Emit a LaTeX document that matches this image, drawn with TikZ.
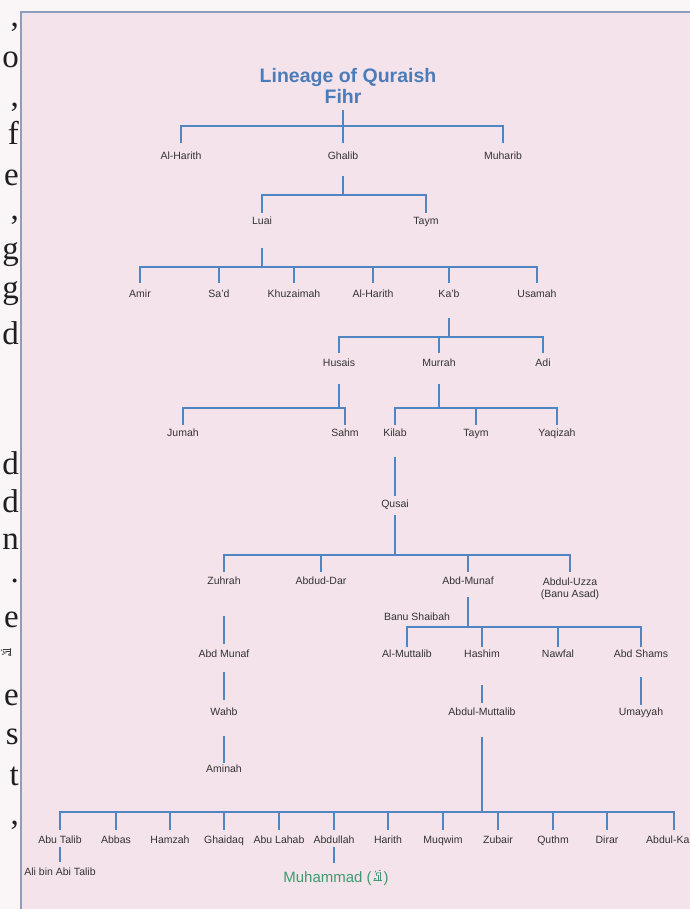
\documentclass[tikz,border=0pt]{standalone}
\usepackage{fontspec}
\setmainfont{Liberation Sans}
\newfontfamily\serifft{Liberation Serif}
\definecolor{panel}{HTML}{F4E3EA}
\definecolor{paper}{HTML}{FAF5F7}
\definecolor{framec}{HTML}{8E9DBB}
\definecolor{linkc}{HTML}{4F86C2}
\definecolor{titlec}{HTML}{4A7CBB}
\definecolor{labelc}{HTML}{333333}
\definecolor{greenc}{HTML}{3E9A70}
\newcommand\famlink[7]{%
  \draw[link] (#1 |- 0,#2) -- (#1 |- 0,#3);
  \draw[link] (#5 |- 0,#4) -- (#5 |- 0,#3) -- (#6 |- 0,#3) -- (#6 |- 0,#4);
  \foreach \c in {#7} {\draw[link] (\c |- 0,#3) -- (\c |- 0,#4);}
}
\newcommand\famtwo[6]{%
  \draw[link] (#1 |- 0,#2) -- (#1 |- 0,#3);
  \draw[link] (#5 |- 0,#4) -- (#5 |- 0,#3) -- (#6 |- 0,#3) -- (#6 |- 0,#4);
}
% the salawat ligature, which no available font has, drawn as a small shape
\newcommand\sawglyph[4]{% #1 coordinate, #2 rotation, #3 colour, #4 scale
  \begin{scope}[shift={(#1)}, rotate=#2, scale=#4, color=#3, line width=0.8bp, line cap=round, line join=round]
    \draw (-4.5,5) -- (4.5,5);
    \draw (-4.5,5) .. controls (-5.5,2) and (-3,1) .. (-2,3);
    \draw (3.5,5) -- (3.5,-5);
    \draw (1,4) -- (1,-1.5);
    \draw (-1,-1) .. controls (-3.5,-3) and (-1,-6) .. (1.5,-4.5);
    \draw (-3.5,-5) -- (-2.5,-6.5);
    \draw (1.5,-7) -- (3,-7.5);
  \end{scope}}
\begin{document}
\begin{tikzpicture}[x=1bp,y=-1bp,
  person/.style={font=\fontsize{10.5bp}{12bp}\selectfont, text=labelc, inner sep=0pt, text height=7.6bp, text depth=0pt},
  link/.style={draw=linkc, line width=1.7bp},
  titlest/.style={font=\fontsize{19.5bp}{22bp}\selectfont\bfseries, text=titlec, inner sep=0pt, text height=14bp, text depth=0pt},
  marg/.style={font=\serifft\fontsize{33bp}{33bp}\selectfont, text=black!88, inner sep=0pt, anchor=base east},
]
\useasboundingbox (0,0) rectangle (690,909);
\clip (0,0) rectangle (690,909);
\fill[paper] (0,0) rectangle (690,909);
\fill[panel] (21,12) rectangle (700,920);
\draw[framec, line width=1.5bp] (700,12) -- (21,12) -- (21,920);

% margin fragments of the book text
\node[marg] (m0) at (19,26) {,};
\node[marg] (m1) at (19,67) {o};
\node[marg] (m2) at (19,106) {,};
\node[marg] (m3) at (19,144) {f};
\node[marg] (m4) at (19,185) {e};
\node[marg] (m5) at (19,219) {,};
\node[marg] (m6) at (19,259) {g};
\node[marg] (m7) at (19,298) {g};
\node[marg] (m8) at (19,344) {d};
\node[marg] (m10) at (19,474) {d};
\node[marg] (m11) at (19,512) {d};
\node[marg] (m12) at (19,549) {n};
\node[marg] (m13) at (19,582) {.};
\node[marg] (m14) at (19,627) {e};
\coordinate (m15) at (7,652);
\node[marg] (m16) at (19,705) {e};
\node[marg] (m17) at (19,744) {s};
\node[marg] (m18) at (19,785) {t};
\node[marg] (m19) at (19,824) {,};
\sawglyph{m15}{90}{black!75}{0.75}

% title
\node[titlest] (title) at (348,75) {Lineage of Quraish};
\node[titlest] (fihr) at (343,96) {Fihr};

% people
\node[person] (alharithA) at (181,156) {Al-Harith};
\node[person] (ghalib) at (343,156) {Ghalib};
\node[person] (muharib) at (503,156) {Muharib};

\node[person] (luai) at (262,221) {Luai};
\node[person] (taymA) at (426,221) {Taym};

\node[person] (amir) at (140,294) {Amir};
\node[person] (sad) at (219,294) {Sa'd};
\node[person] (khuz) at (294,294) {Khuzaimah};
\node[person] (alharithB) at (373,294) {Al-Harith};
\node[person] (kab) at (449,294) {Ka'b};
\node[person] (usamah) at (537,294) {Usamah};

\node[person] (hussais) at (339,363) {Husais};
\node[person] (murrah) at (439,363) {Murrah};
\node[person] (adi) at (543,363) {Adi};

\node[person] (jumah) at (183,433) {Jumah};
\node[person] (sahm) at (345,433) {Sahm};
\node[person] (kilab) at (395,433) {Kilab};
\node[person] (tayn) at (476,433) {Taym};
\node[person] (yaqizah) at (557,433) {Yaqizah};

\node[person] (qusai) at (395,504) {Qusai};

\node[person] (zuhrah) at (224,581) {Zuhrah};
\node[person] (abduddar) at (321,581) {Abdud-Dar};
\node[person] (abdmunafA) at (468,581) {Abd-Munaf};
\node[font=\fontsize{10.5bp}{12bp}\selectfont, text=labelc, inner sep=0pt, align=center, anchor=north] (abduluzza) at (570,577.2) {Abdul-Uzza\\(Banu Asad)};

\node[person] (banushaibah) at (417,617) {Banu Shaibah};
\node[person] (almuttalib) at (407,654) {Al-Muttalib};
\node[person] (hashim) at (482,654) {Hashim};
\node[person] (nawfal) at (558,654) {Nawfal};
\node[person] (abdshams) at (641,654) {Abd Shams};

\node[person] (abdmunafB) at (224,654) {Abd Munaf};
\node[person] (wahb) at (224,712) {Wahb};
\node[person] (aminah) at (224,769) {Aminah};
\node[person] (abdulmuttalib) at (482,712) {Abdul-Muttalib};
\node[person] (umayyah) at (641,712) {Umayyah};

\node[person] (abutalib) at (60,840) {Abu Talib};
\node[person] (abbas) at (116,840) {Abbas};
\node[person] (hamzah) at (170,840) {Hamzah};
\node[person] (ghaidaq) at (224,840) {Ghaidaq};
\node[person] (abulahab) at (279,840) {Abu Lahab};
\node[person] (abdullah) at (334,840) {Abdullah};
\node[person] (harith) at (388,840) {Harith};
\node[person] (muqwim) at (443,840) {Muqwim};
\node[person] (zubair) at (498,840) {Zubair};
\node[person] (quthm) at (553,840) {Quthm};
\node[person] (dirar) at (607,840) {Dirar};
\node[person, anchor=west] (abdulkab) at (646,840) {Abdul-Ka'};
\coordinate (abdulkabX) at (674,840);

\node[person] (ali) at (60,872) {Ali bin Abi Talib};
\node[person, font=\fontsize{15bp}{18bp}\selectfont, text=greenc, text height=10.8bp] (muhammad) at (336,877) {Muhammad (\hspace{12bp})};
\path (muhammad.east) ++(-11,-0.5) coordinate (sawc);
\sawglyph{sawc}{0}{greenc}{0.85}

% connectors
\famlink{fihr}{110}{126}{143}{alharithA}{muharib}{ghalib}
\famtwo{ghalib}{176}{195}{213}{luai}{taymA}
\famlink{luai}{248}{267}{283}{amir}{usamah}{sad,khuz,alharithB,kab}
\famlink{kab}{318}{337}{353}{hussais}{adi}{murrah}
\famtwo{hussais}{384}{408}{425}{jumah}{sahm}
\famlink{murrah}{384}{408}{425}{kilab}{yaqizah}{tayn}
\draw[link] (kilab |- 0,457) -- (qusai |- 0,496);
\famlink{qusai}{515}{555}{572}{zuhrah}{abduluzza}{abduddar,abdmunafA}
\famlink{abdmunafA}{597}{627}{647}{almuttalib}{abdshams}{hashim,nawfal}
\draw[link] (zuhrah |- 0,616) -- (abdmunafB |- 0,644);
\draw[link] (abdmunafB |- 0,672) -- (wahb |- 0,700);
\draw[link] (wahb |- 0,736) -- (aminah |- 0,763);
\draw[link] (hashim |- 0,685) -- (abdulmuttalib |- 0,703);
\draw[link] (abdshams |- 0,677) -- (umayyah |- 0,705);
\famlink{abdulmuttalib}{737}{812}{830}{abutalib}{abdulkabX}{abbas,hamzah,ghaidaq,abulahab,abdullah,harith,muqwim,zubair,quthm,dirar}
\draw[link] (abutalib |- 0,847) -- (ali |- 0,862);
\draw[link] (abdullah |- 0,847) -- (abdullah |- 0,863) coordinate (muhtop);
\end{tikzpicture}
\end{document}
